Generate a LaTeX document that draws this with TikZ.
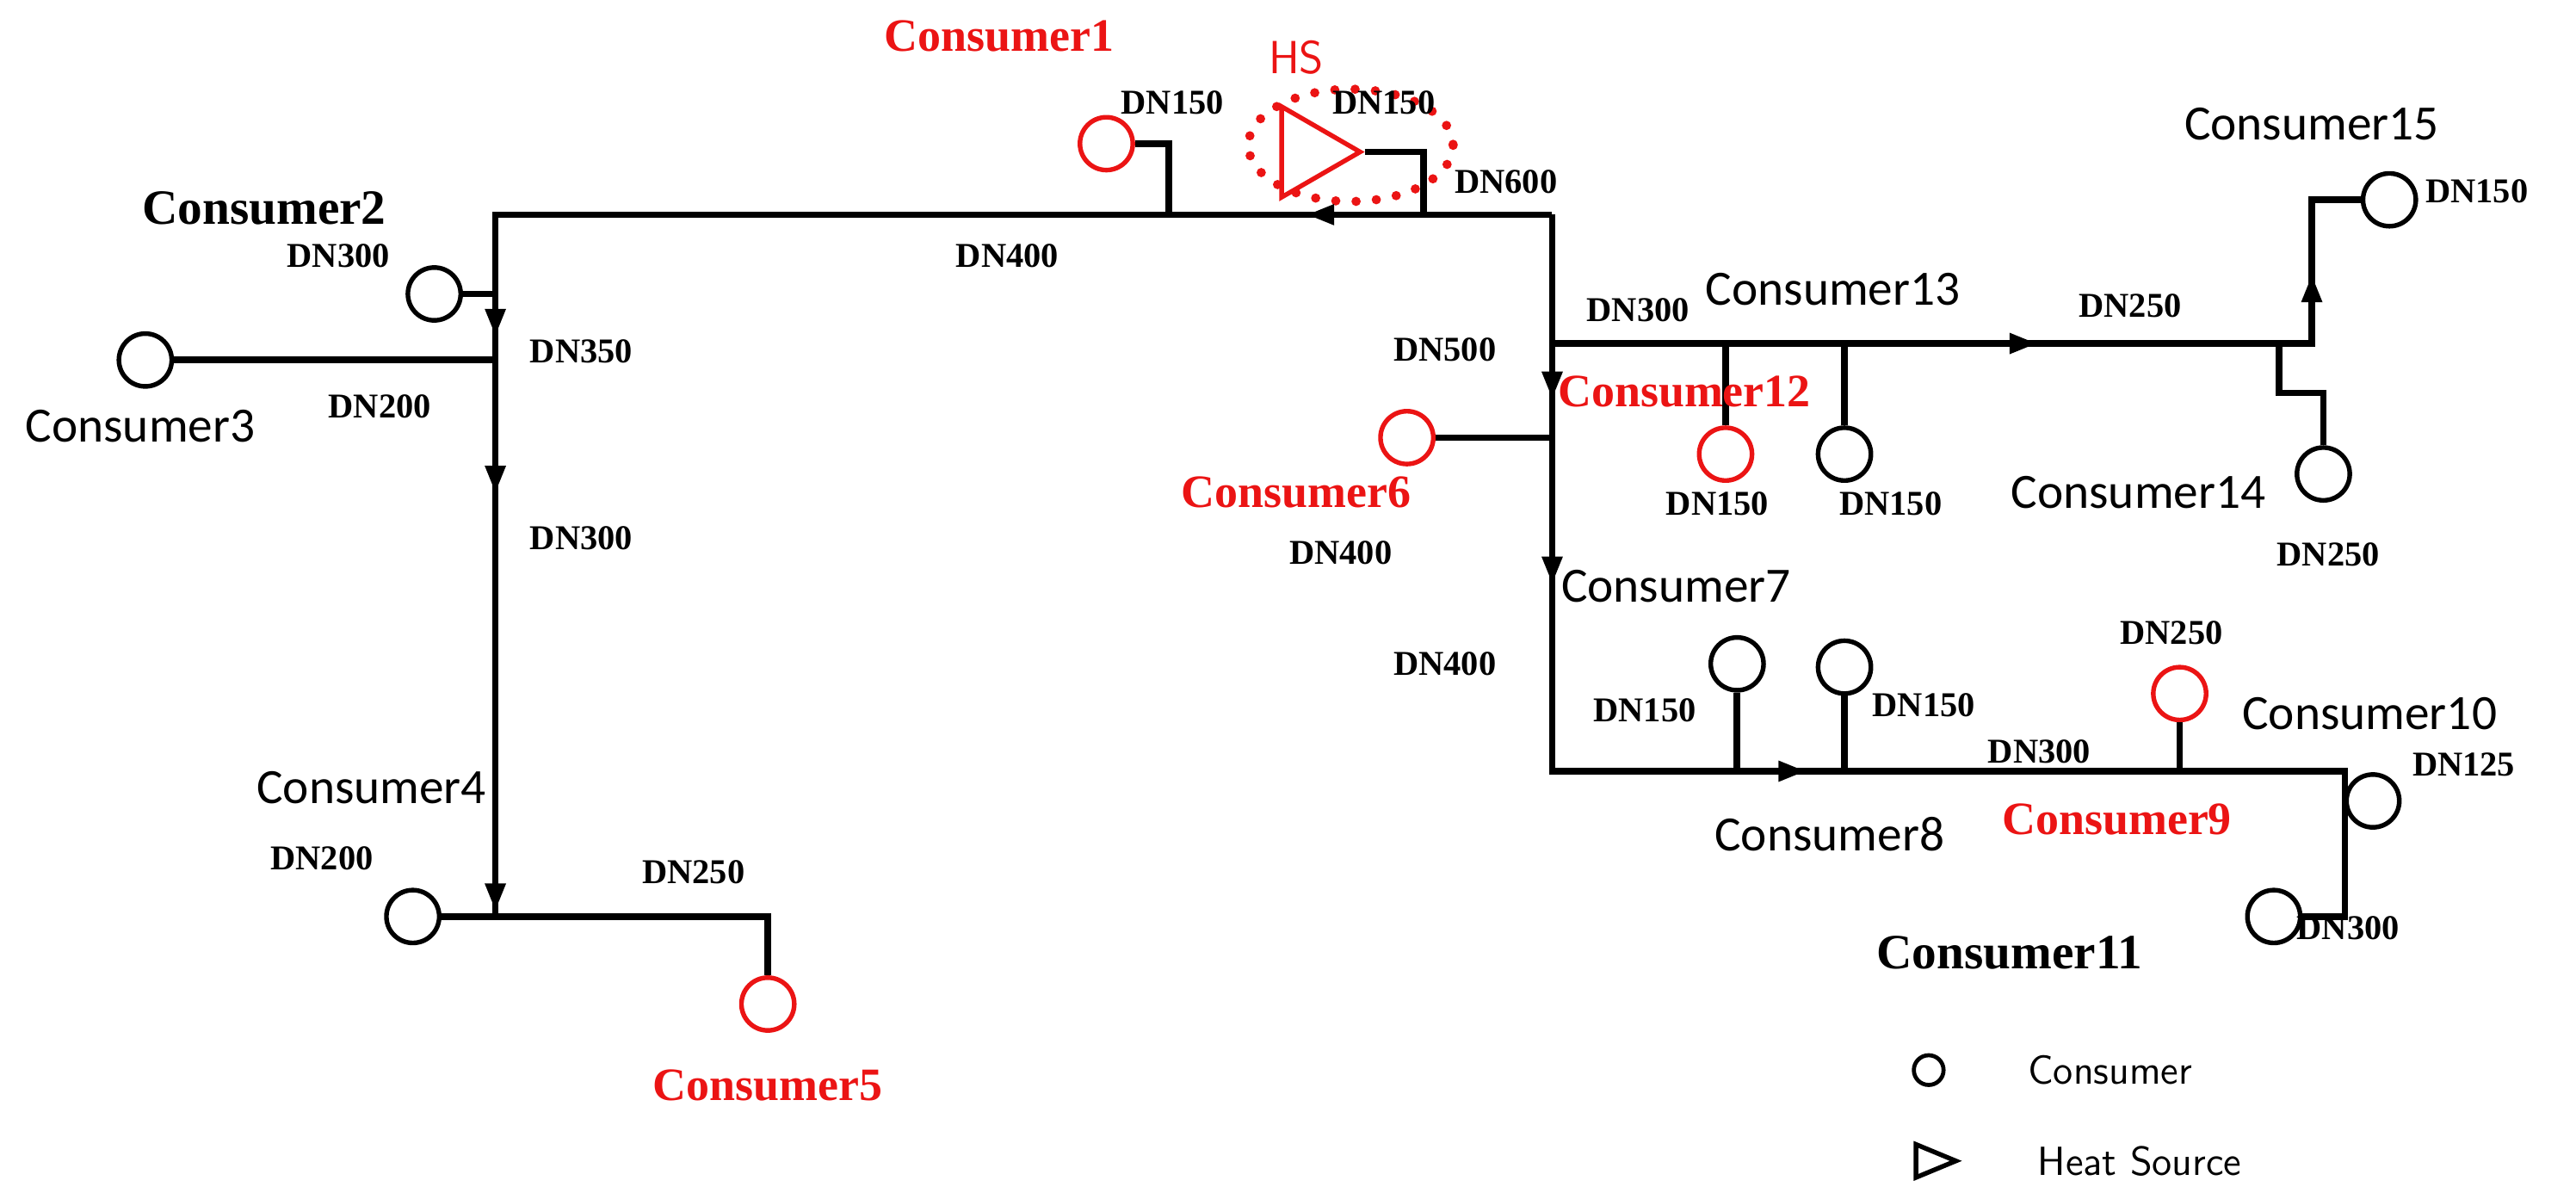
\documentclass[tikz,border=0pt]{standalone}
\usepackage{fontspec}
\setmainfont{Liberation Serif}
\newfontfamily\carlfont{Carlito}
\usetikzlibrary{shapes.geometric}
\definecolor{hred}{RGB}{235,20,20}
\begin{document}
\begin{tikzpicture}[x=0.02cm,y=-0.02cm,
 pipe/.style={line width=2.3pt,line join=miter},
 cons/.style={circle,draw,line width=1.6pt,minimum size=0.64cm,inner sep=0pt},
 rc/.style={cons,draw=hred},
 dn/.style={font=\fontsize{12}{12}\selectfont\bfseries},
 cl/.style={font=\carlfont\fontsize{17}{17}\selectfont},
 cs/.style={font=\fontsize{17}{17}\selectfont\bfseries},
 rl/.style={font=\fontsize{16}{16}\selectfont\bfseries,text=hred}]
\useasboundingbox (0,0) rectangle (1560,726);
\newcommand\flowmark[3]{\fill[shift={(#1,#2)},rotate=#3] (8,0)--(-8,-6.5)--(-8,6.5)--cycle;}
% junction coordinates
\coordinate (TL) at (300,130); \coordinate (TR) at (940,130);
\coordinate (BL) at (300,555); \coordinate (J1) at (708,130); \coordinate (J2) at (862,130);
\coordinate (R1) at (940,208); \coordinate (R2) at (940,467);
\coordinate (E1) at (1400,208); \coordinate (E2) at (1400,121);
\coordinate (B1) at (1420,467); \coordinate (B2) at (1420,555);
% consumers
\node[rc] (c1) at (670,87) {};
\node[cons] (c2) at (263,178) {};
\node[cons] (c3) at (88,218) {};
\node[cons] (c4) at (250,555) {};
\node[rc] (c5) at (465,608) {};
\node[rc] (c6) at (852,265) {};
\node[cons] (c7) at (1052,402) {};
\node[cons] (c8) at (1117,404) {};
\node[rc] (c9) at (1320,420) {};
\node[cons] (c10) at (1437,485) {};
\node[cons] (c11) at (1377,555) {};
\node[rc] (c12) at (1045,275) {};
\node[cons] (c13) at (1117,275) {};
\node[cons] (c14) at (1407,287) {};
\node[cons] (c15) at (1447,121) {};
\node[isosceles triangle,isosceles triangle apex angle=60,draw=hred,line width=1.6pt,minimum height=0.95cm,inner sep=0pt] (hs) at (792,92) {};
\draw[hred,line width=3.2pt,dash pattern=on 0pt off 7pt,line cap=round] (818,88) ellipse [x radius=62,y radius=34];
% pipes
\draw[pipe] (c3.east)--(300,218);
\draw[pipe] (c2.east)--(300,178);
\draw[pipe] (c4.east)--(BL);
\draw[pipe] (TR)--(TL)--(BL)--(465,555)--(c5.north);
\draw[pipe] (c1.east)--(708,87)--(J1);
\draw[pipe] (hs.apex)--(862,92)--(J2);
\draw[pipe] (TR)--(R2)--(B1)--(B2)--(c11.east);
\draw[pipe] (B1|-c10)--(c10.west);
\draw[pipe] (R1)--(E1)--(E2)--(c15.west);
\draw[pipe] (1045,208)--(c12.north);
\draw[pipe] (1117,208)--(c13.north);
\draw[pipe] (1380,208)--(1380,238)--(1407,238)--(c14.north);
\draw[pipe] (c6.east)--(940,265);
\draw[pipe] (c7.south)--(1052,467);
\draw[pipe] (c8.south)--(1117,467);
\draw[pipe] (c9.south)--(1320,467);
% flow markers
\flowmark{800}{130}{180}
\flowmark{300}{195}{-90}
\flowmark{300}{290}{-90}
\flowmark{300}{543}{-90}
\flowmark{940}{233}{-90}
\flowmark{940}{345}{-90}
\flowmark{1225}{208}{0}
\flowmark{1400}{175}{90}
\flowmark{1085}{467}{0}
% labels
\node[rl] (l1) at (605,22) {Consumer1};
\node[font=\sffamily\fontsize{16}{16}\selectfont,text=hred] (lhs) at (785,35) {HS};
\node[dn] at (710,62) {DN150};
\node[dn] at (838,62) {DN150};
\node[dn] at (912,110) {DN600};
\node[dn] at (610,155) {DN400};
\node[cs] at (160,126) {Consumer2};
\node[dn] at (205,155) {DN300};
\node[dn] at (352,213) {DN350};
\node[cl] at (85,258) {Consumer3};
\node[dn] at (230,246) {DN200};
\node[dn] at (352,326) {DN300};
\node[cl] at (225,477) {Consumer4};
\node[dn] at (195,520) {DN200};
\node[dn] at (420,528) {DN250};
\node[rl] at (465,657) {Consumer5};
\node[cl] at (1400,75) {Consumer15};
\node[dn] at (1500,116) {DN150};
\node[dn] at (992,188) {DN300};
\node[cl] at (1110,175) {Consumer13};
\node[dn] at (1290,185) {DN250};
\node[dn] at (875,212) {DN500};
\node[rl] at (1020,237) {Consumer12};
\node[dn] at (1040,305) {DN150};
\node[dn] at (1145,305) {DN150};
\node[cl] at (1295,298) {Consumer14};
\node[dn] at (1410,336) {DN250};
\node[rl] at (785,298) {Consumer6};
\node[dn] at (812,335) {DN400};
\node[cl] at (1015,355) {Consumer7};
\node[dn] at (875,402) {DN400};
\node[dn] at (996,430) {DN150};
\node[dn] at (1165,427) {DN150};
\node[dn] at (1315,383) {DN250};
\node[dn] at (1235,455) {DN300};
\node[cl] at (1435,432) {Consumer10};
\node[dn] at (1492,463) {DN125};
\node[rl] at (1282,496) {Consumer9};
\node[cl] at (1108,505) {Consumer8};
\node[dn] at (1422,562) {DN300};
\node[cs] at (1217,577) {Consumer11};
% legend
\node[circle,draw,line width=1.4pt,minimum size=0.36cm,inner sep=0pt] (lc) at (1168,648) {};
\node[font=\fontsize{14}{14}\selectfont\sffamily,anchor=west] at (1222,648) {Consumer};
\node[isosceles triangle,draw,line width=1.6pt,minimum height=0.34cm,minimum width=0.4cm,inner sep=0pt] (lt) at (1167,703) {};
\node[font=\fontsize{14}{14}\selectfont\sffamily,anchor=west] at (1228,703) {Heat Source};
\end{tikzpicture}
\end{document}
